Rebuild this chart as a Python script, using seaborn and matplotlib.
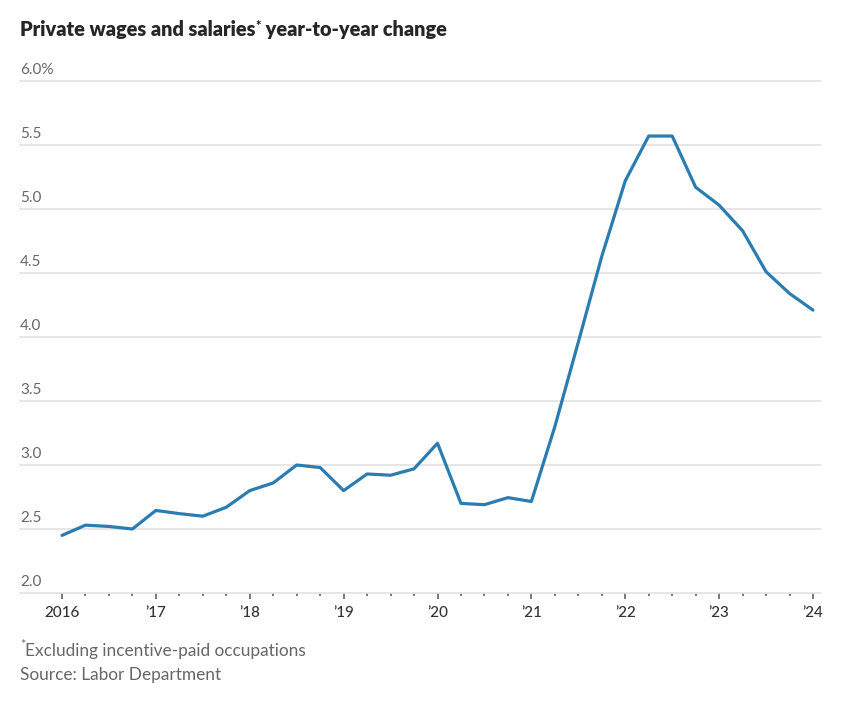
import matplotlib
matplotlib.use("Agg")
import matplotlib.pyplot as plt
import matplotlib.transforms as mtransforms
from matplotlib.ticker import FixedLocator
import seaborn as sns
import pandas as pd
import numpy as np

# ---- data ----
quarters = pd.period_range("2016Q1", "2024Q1", freq="Q")
values = [2.45, 2.53, 2.52, 2.50, 2.645, 2.62, 2.60, 2.67,
          2.80, 2.86, 3.00, 2.98, 2.80, 2.93, 2.92, 2.97,
          3.17, 2.70, 2.69, 2.745, 2.715, 3.30, 3.96, 4.63,
          5.22, 5.57, 5.57, 5.17, 5.03, 4.83, 4.51, 4.34, 4.21]
year_ticks = [2016, 2017, 2018, 2019, 2020, 2021, 2022, 2023, 2024]
year_labels = ["2016", "\u201917", "\u201918", "\u201919", "\u201920",
               "\u201921", "\u201922", "\u201923", "\u201924"]
y_ticks = [2.0, 2.5, 3.0, 3.5, 4.0, 4.5, 5.0, 5.5, 6.0]
y_labels = ["2.0", "2.5", "3.0", "3.5", "4.0", "4.5", "5.0", "5.5", "6.0%"]
title_parts = ["Private wages and salaries", "*", " year-to-year change"]
note_parts = ["*", "Excluding incentive-paid occupations"]
source = "Source: Labor Department"

df = pd.DataFrame({"t": quarters.year + (quarters.quarter - 1) / 4.0,
                   "v": values})

sns.set_theme(style="white")
plt.rcParams["font.family"] = ["Lato", "DejaVu Sans"]

W, H = 848, 703
fig = plt.figure(figsize=(W / 100, H / 100), dpi=100)
ax = fig.add_axes([20 / W, 1 - 593 / H, (821 - 20) / W, (593 - 81) / H])

sns.lineplot(data=df, x="t", y="v", ax=ax, color="#2b7cb0", linewidth=2.3,
             zorder=5)

px_per_year = (813 - 62) / 8.0
ax.set_xlim(2016 - 42 / px_per_year, 2024 + 8 / px_per_year)
ax.set_ylim(2.0, 6.0)

for s in ax.spines.values():
    s.set_visible(False)

for yv in y_ticks:
    ax.axhline(yv, color="#e2e2e2", linewidth=1.2, zorder=1, clip_on=False)

ax.set_yticks([])
ytr = ax.get_yaxis_transform()
off = mtransforms.ScaledTranslation(0, 3 / 72, fig.dpi_scale_trans)
for yv, lab in zip(y_ticks, y_labels):
    ax.text(0.0, yv, lab, transform=ytr + off, ha="left", va="bottom",
            fontsize=11, color="#666666")

ax.xaxis.set_major_locator(FixedLocator(year_ticks))
ax.set_xticklabels(year_labels)
ax.xaxis.set_minor_locator(FixedLocator(list(df["t"])))
ax.tick_params(axis="x", which="major", direction="out", length=4.5,
               width=1.1, color="#555555", labelsize=11, labelcolor="#333333",
               pad=5, bottom=True)
ax.tick_params(axis="x", which="minor", direction="out", length=2.5,
               width=1.1, color="#555555", bottom=True)
for lbl in ax.get_xticklabels():
    lbl.set_fontweight("medium")
ax.set_xlabel("")
ax.set_ylabel("")

renderer = fig.canvas.get_renderer()


def run_text(x_px, y_px, parts, sizes, dys, **kw):
    x = x_px
    for p, fs, dy in zip(parts, sizes, dys):
        t = fig.text(x / W, 1 - (y_px - dy) / H, p, ha="left", va="baseline",
                     fontsize=fs, **kw)
        bb = t.get_window_extent(renderer=renderer)
        x = bb.x1


run_text(20, 36, title_parts, [14.3, 9, 14.3], [0, 6, 0],
         fontweight="heavy", color="#262626")
run_text(20, 656, note_parts, [9, 12.4], [7, 0], color="#666666")
fig.text(20 / W, 1 - 680 / H, source, ha="left", va="baseline",
         fontsize=12.4, color="#666666")

fig.savefig("out.png", dpi=100)
